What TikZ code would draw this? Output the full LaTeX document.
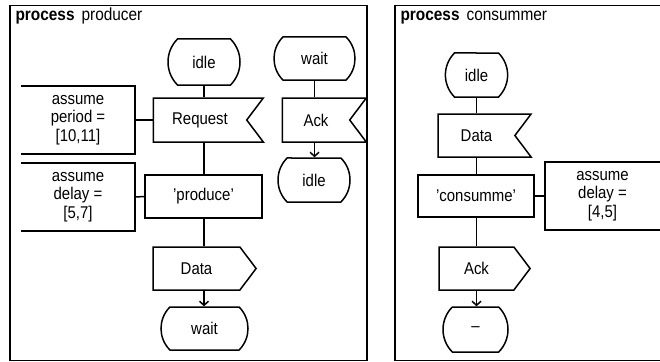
\documentclass[tikz,border=0pt]{standalone}
\usepackage{fontspec}
\setmainfont[FakeStretch=0.88]{Liberation Sans}
\usetikzlibrary{shapes.symbols,shapes.misc,arrows.meta,positioning}
\begin{document}
\begin{tikzpicture}[x=1pt, y=-1pt,
  font=\fontsize{17}{18.5}\selectfont,
  state/.style={rounded rectangle, rounded rectangle arc length=90, draw=black, line width=1.5pt, inner sep=0pt},
  input/.style={signal, signal to=nowhere, signal from=east, signal pointer angle=106, draw=black, line width=1.5pt, inner sep=0pt},
  output/.style={signal, signal to=east, signal from=nowhere, signal pointer angle=106, draw=black, line width=1.5pt, inner sep=0pt},
  task/.style={rectangle, draw=black, line width=1.5pt, inner sep=0pt},
  note/.style={rectangle, inner sep=0pt, align=center, minimum width=114pt, minimum height=68pt},
  frame/.style={draw=black, line width=1.8pt},
  link/.style={line width=1.5pt},
  flow/.style={line width=1.5pt, -{Straight Barb[length=4pt,width=9pt]}},
  head/.style={anchor=base west, font=\fontsize{17.5}{18}\selectfont}]
  \useasboundingbox (0,0) rectangle (660,361);
  \clip (0,0) rectangle (660,361);
  \draw[frame] (10,5.5) rectangle (367,360.5);
  \draw[frame] (665,5.5) -- (395,5.5) -- (395,360.5) -- (665,360.5);
  \node[head] (phead) at (12,21) {\textbf{process}\hspace{7pt}producer};
  \node[head] (chead) at (397,21) {\textbf{process}\hspace{7pt}consummer};

  \node[state, minimum width=72pt, minimum height=46pt] (pidle) at (204,62) {idle};
  \node[input, minimum width=110pt, minimum height=44pt] (preq) at (200,120) {Request};
  \node[task, minimum width=117pt, minimum height=43pt] (pprod) at (203.5,196.5) {'produce'};
  \node[output, minimum width=103pt, minimum height=43pt] (pdata) at (196.5,268.5) {Data};
  \node[state, minimum width=87pt, minimum height=43pt] (pwait) at (204.5,328.5) {wait};
  \node[note] (pperiod) at (78,120) {assume\\period =\\{}[10,11]};
  \node[note] (pdelay) at (78,197) {assume\\delay =\\{}[5,7]};
  \node[state, minimum width=81pt, minimum height=43pt] (pwait2) at (314.5,58.5) {wait};
  \node[input, minimum width=84pt, minimum height=44pt] (pack) at (316,120) {Ack};
  \node[state, minimum width=72pt, minimum height=44pt] (pidle2) at (314,180) {idle};

  \node[state, minimum width=53pt, minimum height=44pt] (cidle) at (476.5,75) {idle};
  \node[input, minimum width=93pt, minimum height=43pt] (cdata) at (476.5,135.5) {Data};
  \node[task, minimum width=116pt, minimum height=42pt] (ccons) at (476,196) {'consumme'};
  \node[note, minimum width=115pt] (cdelay) at (602.5,196) {assume\\delay =\\{}[4,5]};
  \node[output, minimum width=91pt, minimum height=43pt] (cack) at (476.5,268.5) {Ack};
  \node[state, minimum width=65pt, minimum height=45pt] (cend) at (475.5,329.5) {--};

  \draw[link] (pperiod.north west) -- (pperiod.north east) -- (pperiod.south east) -- (pperiod.south west);
  \draw[link] (pdelay.north west) -- (pdelay.north east) -- (pdelay.south east) -- (pdelay.south west);
  \draw[link] (cdelay.north east) ++(5,0) -- (cdelay.north west) -- (cdelay.south west) -- ++(120,0);

  \draw[link] (pidle.south) -- (pidle.south |- preq.north);
  \draw[link] (pidle.south |- preq.south) -- (pidle.south |- pprod.north);
  \draw[link] (pidle.south |- pprod.south) -- (pidle.south |- pdata.north);
  \draw[flow] (pidle.south |- pdata.south) -- (pidle.south |- pwait.north);
  \draw[link] (pperiod.east) -- (preq.west);
  \draw[link] (pdelay.east) -- (pprod.west);
  \draw[link] (pwait2.south) -- (pwait2.south |- pack.north);
  \draw[flow] (pwait2.south |- pack.south) -- (pwait2.south |- pidle2.north);

  \draw[link] (cidle.south) -- (cidle.south |- cdata.north);
  \draw[link] (cidle.south |- cdata.south) -- (cidle.south |- ccons.north);
  \draw[link] (cidle.south |- ccons.south) -- (cidle.south |- cack.north);
  \draw[flow] (cidle.south |- cack.south) -- (cidle.south |- cend.north);
  \draw[link] (ccons.east) -- (cdelay.west);
\end{tikzpicture}
\end{document}
